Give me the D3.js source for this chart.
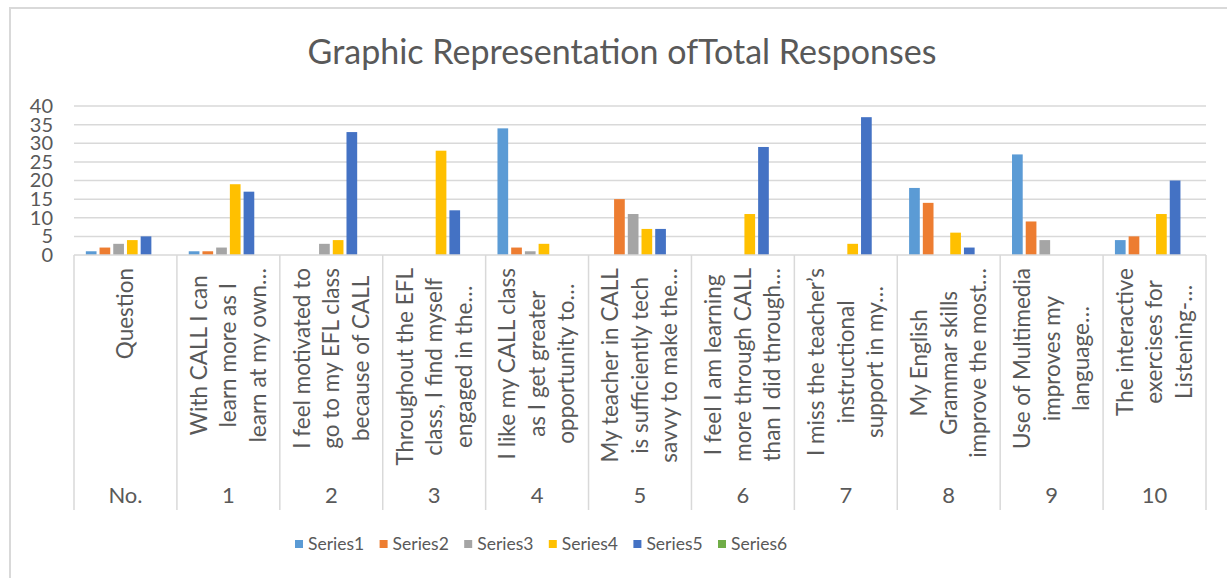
<!DOCTYPE html>
<html>
<head>
<meta charset="utf-8">
<script src="https://cdn.jsdelivr.net/npm/d3@7/dist/d3.min.js"></script>
<style>
  html, body { margin: 0; padding: 0; background: #fff; }
  svg { display: block; }
  text { font-family: Lato, "Liberation Sans", sans-serif; fill: #595959; }
</style>
</head>
<body>
<svg id="chart" width="1227" height="578"></svg>
<script>
// ---- Data ----
const chartTitle = "Graphic Representation ofTotal Responses";
const questionNumbers = ["No.", "1", "2", "3", "4", "5", "6", "7", "8", "9", "10"];
const questionLabels = [
  ["Question"],
  ["With CALL I can", "learn more as I", "learn at my own…"],
  ["I feel motivated to", "go to my EFL class", "because of CALL"],
  ["Throughout the EFL", "class, I find myself", "engaged in the…"],
  ["I like my CALL class", "as I get greater", "opportunity to…"],
  ["My teacher in CALL", "is sufficiently tech", "savvy to make the…"],
  ["I feel I am learning", "more through CALL", "than I did through…"],
  ["I miss the teacher’s", "instructional", "support in my…"],
  ["My English", "Grammar skills", "improve the most…"],
  ["Use of Multimedia", "improves my", "language…"],
  ["The interactive", "exercises for", "Listening-…"]
];
const seriesNames = ["Series1", "Series2", "Series3", "Series4", "Series5", "Series6"];
const series1 = [1, 1, 0, 0, 34, 0, 0, 0, 18, 27, 4];
const series2 = [2, 1, 0, 0, 2, 15, 0, 0, 14, 9, 5];
const series3 = [3, 2, 3, 0, 1, 11, 0, 0, 0, 4, 0];
const series4 = [4, 19, 4, 28, 3, 7, 11, 3, 6, 0, 11];
const series5 = [5, 17, 33, 12, 0, 7, 29, 37, 2, 0, 20];
const series6 = [0, 0, 0, 0, 0, 0, 0, 0, 0, 0, 0];
const seriesColors = ["#5b9bd5", "#ed7d31", "#a5a5a5", "#ffc000", "#4472c4", "#70ad47"];
const yTicks = [0, 5, 10, 15, 20, 25, 30, 35, 40];

const seriesValues = [series1, series2, series3, series4, series5, series6];

// ---- Layout ----
const svg = d3.select("#chart");
const plot = { left: 74, right: 1206, top: 106, bottom: 255 };
const gridColor = "#d9d9d9";

// chart border (extends past right/bottom edges like the reference)
svg.append("rect")
  .attr("x", 10).attr("y", 8).attr("width", 1260).attr("height", 620)
  .attr("fill", "none").attr("stroke", gridColor).attr("stroke-width", 2);

// title
svg.append("text")
  .attr("x", 622).attr("y", 64)
  .attr("text-anchor", "middle")
  .style("font-size", "34px")
  .text(chartTitle);

// scales
const y = d3.scaleLinear().domain([0, 40]).range([plot.bottom, plot.top]);
const x0 = d3.scaleBand().domain(questionNumbers.map((d, i) => i)).range([plot.left, plot.right]).padding(0);
const bw = x0.bandwidth();
const x1 = d3.scaleBand().domain(seriesNames).range([bw * 0.115, bw * 0.885]).paddingInner(0.22).paddingOuter(0);

// gridlines
svg.append("g").selectAll("line").data(yTicks.filter(t => t > 0)).join("line")
  .attr("x1", plot.left).attr("x2", plot.right)
  .attr("y1", d => y(d)).attr("y2", d => y(d))
  .attr("stroke", gridColor).attr("stroke-width", 1.5);

// y axis labels via d3 axis
const yAxis = svg.append("g")
  .attr("transform", `translate(${plot.left},0)`)
  .call(d3.axisLeft(y).tickValues(yTicks).tickSize(0).tickPadding(21));
yAxis.select(".domain").remove();
yAxis.selectAll("text")
  .style("font-size", "20px")
  .style("font-family", "Lato, 'Liberation Sans', sans-serif")
  .attr("fill", "#595959");

// bars
const groups = svg.append("g").selectAll("g").data(questionNumbers.map((d, i) => i)).join("g")
  .attr("transform", i => `translate(${x0(i)},0)`);
groups.selectAll("rect")
  .data(i => seriesNames.map((s, k) => ({ s, k, v: seriesValues[k][i] })))
  .join("rect")
  .filter(d => d.v > 0)
  .attr("x", d => x1(d.s))
  .attr("width", x1.bandwidth())
  .attr("y", d => y(d.v))
  .attr("height", d => y(0) - y(d.v))
  .attr("fill", d => seriesColors[d.k]);

// category axis baseline
svg.append("line")
  .attr("x1", plot.left).attr("x2", plot.right)
  .attr("y1", plot.bottom).attr("y2", plot.bottom)
  .attr("stroke", gridColor).attr("stroke-width", 1.5);

// category separators
const bounds = questionNumbers.map((d, i) => x0(i)).concat([plot.right]);
svg.append("g").selectAll("line").data(bounds).join("line")
  .attr("x1", d => d).attr("x2", d => d)
  .attr("y1", plot.bottom).attr("y2", 510)
  .attr("stroke", gridColor).attr("stroke-width", 1.5);

// rotated question labels
const lineGap = 29.5;
const labelTop = 268;
questionLabels.forEach((lines, i) => {
  const cx = x0(i) + bw / 2;
  const g = svg.append("g");
  const texts = g.selectAll("text").data(lines).join("text")
    .attr("text-anchor", "middle")
    .style("font-size", "22.5px")
    .attr("x", 0)
    .attr("y", (d, j) => (j - (lines.length - 1) / 2) * lineGap)
    .attr("dy", "0.35em")
    .text(d => d);
  let maxLen = 0;
  texts.each(function () { maxLen = Math.max(maxLen, this.getComputedTextLength()); });
  const cy = labelTop + maxLen / 2;
  g.attr("transform", `translate(${cx},${cy}) rotate(-90)`);
});

// question numbers
svg.append("g").selectAll("text").data(questionNumbers).join("text")
  .attr("x", (d, i) => x0(i) + bw / 2)
  .attr("y", 495)
  .attr("dy", "0.35em")
  .attr("text-anchor", "middle")
  .style("font-size", "22px")
  .text(d => d);

// legend
const legendX = 295, legendStep = 84.6, legendY = 544;
const leg = svg.append("g").selectAll("g").data(seriesNames).join("g")
  .attr("transform", (d, k) => `translate(${legendX + k * legendStep},${legendY})`);
leg.append("rect").attr("x", 0).attr("y", -4).attr("width", 8).attr("height", 8)
  .attr("fill", (d, k) => seriesColors[k]);
leg.append("text").attr("x", 13).attr("y", 0).attr("dy", "0.35em")
  .style("font-size", "17.5px")
  .text(d => d);
</script>
</body>
</html>
